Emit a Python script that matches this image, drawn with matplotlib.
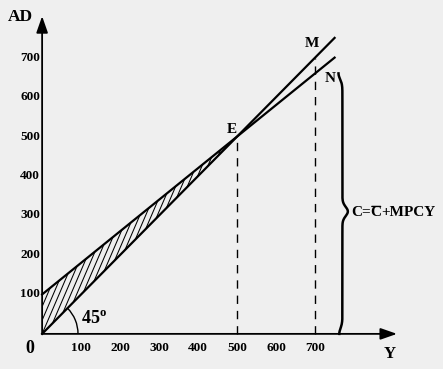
import numpy as np
import matplotlib.pyplot as plt
from matplotlib.patches import Arc, Polygon
from matplotlib.collections import LineCollection

plt.rcParams['font.family'] = ['Liberation Serif', 'DejaVu Serif']
plt.rcParams['font.weight'] = 'bold'
plt.rcParams['mathtext.fontset'] = 'custom'
plt.rcParams['mathtext.rm'] = 'Liberation Serif:bold'

# data
x_ticks = [100, 200, 300, 400, 500, 600, 700]
y_ticks = [100, 200, 300, 400, 500, 600, 700]
c_bar = 100        # autonomous consumption
mpc = 0.8          # marginal propensity to consume
y_eq = 500         # equilibrium point E
y_check = 700      # second dashed line
y_end = 750        # where the lines stop

fig = plt.figure(figsize=(4.43, 3.69), dpi=100)
fig.patch.set_facecolor('#efefef')
ax = fig.add_axes([0, 0, 1, 1])
ax.set_facecolor('#efefef')
ax.set_xlim(-108, 1028)
ax.set_ylim(-89, 846)
ax.axis('off')

Y = np.linspace(0, y_end, 200)
C = c_bar + mpc * Y
ax.plot(Y, Y, color='black', lw=1.6)
ax.plot(Y, C, color='black', lw=1.6)

# hatched wedge between C and the 45 degree line (steep hatch, clipped)
wedge = Polygon([[0, 0], [0, c_bar], [y_eq, y_eq]], closed=True,
                facecolor='none', edgecolor='none')
ax.add_patch(wedge)
slope = 2.3
starts = np.arange(-300, y_eq + 20, 15)
segs = [[(s, 0), (s + 600 / slope, 600)] for s in starts]
hatch = LineCollection(segs, colors='black', linewidths=0.75)
ax.add_collection(hatch)
hatch.set_clip_path(wedge)

# dashed verticals
ax.plot([y_eq, y_eq], [0, y_eq], color='black', lw=1, dashes=(6, 5))
ax.plot([y_check, y_check], [0, y_check], color='black', lw=1, dashes=(6, 5))

# axes arrows
ax.annotate('', xy=(910, 0), xytext=(0, 0),
            arrowprops=dict(arrowstyle='-|>,head_length=1.0,head_width=0.35',
                            color='black', lw=1.3, shrinkA=0, shrinkB=0))
ax.annotate('', xy=(0, 805), xytext=(0, 0),
            arrowprops=dict(arrowstyle='-|>,head_length=1.0,head_width=0.35',
                            color='black', lw=1.3, shrinkA=0, shrinkB=0))

for t in x_ticks:
    ax.text(t, -37, str(t), ha='center', va='center', fontsize=9.5)
for t in y_ticks:
    ax.text(-5, t, str(t), ha='right', va='center', fontsize=9.5)

ax.text(-56, 802, 'AD', ha='center', va='center', fontsize=12.5)
ax.text(-31, -38, '0', ha='center', va='center', fontsize=13)
ax.text(892, -50, 'Y', ha='center', va='center', fontsize=12)
ax.text(692, 737, 'M', ha='center', va='center', fontsize=11)
ax.text(738, 648, 'N', ha='center', va='center', fontsize=11)
ax.text(487, 518, 'E', ha='center', va='center', fontsize=11)
ax.text(100, 37, '45$^{\\mathrm{o}}$', ha='left', va='center', fontsize=13)

ax.add_patch(Arc((0, 0), 2 * 92, 2 * 92, theta1=0, theta2=45, color='black', lw=1))

# brace next to the C line at Y=700
top = c_bar + mpc * y_check
bx = 770
t = np.linspace(0, 1, 300)
yy = top * (1 - t)
xx = bx + 14 * np.exp(-((t - 0.53) / 0.025) ** 2)
xx = xx - 10 * np.exp(-(t / 0.03) ** 2) - 8 * np.exp(-((1 - t) / 0.03) ** 2)
ax.plot(xx, yy, color='black', lw=1.8)

# formula C = C-bar + MPC*Y, built from pieces so the bar sits on the 2nd C
t1 = ax.text(bx + 22, top * 0.47 - 12, 'C=', ha='left', va='baseline', fontsize=11)
t2 = ax.annotate('C', xy=(1, 0), xycoords=t1, ha='left', va='bottom', fontsize=11)
t3 = ax.annotate('+MPCY', xy=(1, 0), xycoords=t2, ha='left', va='bottom', fontsize=11)
ax.annotate('', xy=(0.9, 0.98), xycoords=t2, xytext=(0.1, 0.98), textcoords=t2,
            arrowprops=dict(arrowstyle='-', lw=1, color='black', shrinkA=0, shrinkB=0))

fig.savefig('out.png', dpi=100, facecolor=fig.get_facecolor())
